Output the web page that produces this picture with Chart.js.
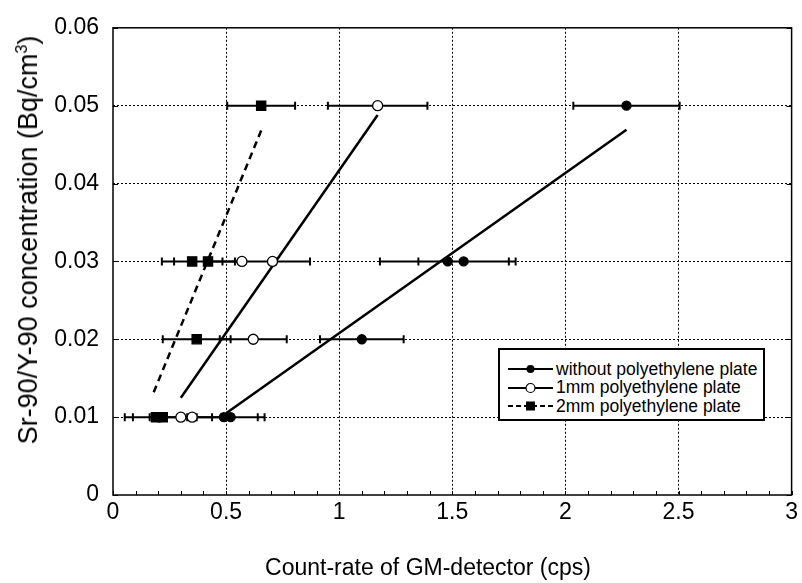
<!DOCTYPE html>
<html>
<head>
<meta charset="utf-8">
<script src="https://cdn.jsdelivr.net/npm/chart.js@4.4.0/dist/chart.umd.min.js"></script>
<style>
  body { margin: 0; background: #fff; }
  #wrap { position: relative; width: 802px; height: 583px; font-family: "Liberation Sans", Arial, sans-serif; color: #000; }
  canvas { position: absolute; left: 0; top: 0; }
  .xtitle { position: absolute; left: 228px; width: 400px; top: 553px; line-height: 28px; font-size: 23px; text-align: center; white-space: nowrap; }
  .ytitle { position: absolute; left: 28px; top: 240px; transform: translate(-50%, -50%) rotate(-90deg); font-size: 27px; white-space: nowrap; }
  .ytitle sup { font-size: 0.6em; }
  .legend { position: absolute; left: 498px; top: 348px; width: 267px; height: 73px; box-sizing: border-box; border: 2px solid #000; background: #fff; padding-top: 10px; font-size: 17.5px; }
  .legend .row { height: 18.3px; line-height: 18.3px; white-space: nowrap; }
  .legend svg { vertical-align: middle; margin: 0 3px 2px 8px; }
</style>
</head>
<body>
<div id="wrap">
  <canvas id="chart" width="802" height="583"></canvas>
  <div class="ytitle">Sr-90/Y-90 concentration (Bq/cm<sup>3</sup>)</div>
  <div class="xtitle">Count-rate of GM-detector (cps)</div>
  <div class="legend">
    <div class="row"><svg width="45" height="12"><line x1="0" y1="6" x2="45" y2="6" stroke="#000" stroke-width="2"/><circle cx="22.5" cy="6" r="4" fill="#000"/></svg>without polyethylene plate</div>
    <div class="row"><svg width="45" height="12"><line x1="0" y1="6" x2="45" y2="6" stroke="#000" stroke-width="2"/><circle cx="22.5" cy="6" r="4.5" fill="#fff" stroke="#000" stroke-width="1.2"/></svg>1mm polyethylene plate</div>
    <div class="row"><svg width="45" height="12"><line x1="0" y1="6" x2="45" y2="6" stroke="#000" stroke-width="2" stroke-dasharray="5,3"/><rect x="18" y="1.5" width="9" height="9" fill="#000"/></svg>2mm polyethylene plate</div>
  </div>
</div>
<script>
// measured points (count rate, concentration, +/- error on count rate)
const noPlateX = [0.49, 0.52, 1.10, 1.48, 1.55, 2.27];
const noPlateY = [0.01, 0.01, 0.02, 0.03, 0.03, 0.05];
const noPlateErr = [0.15, 0.15, 0.185, 0.30, 0.20, 0.235];

const plate1X = [0.30, 0.35, 0.62, 0.57, 0.705, 1.17];
const plate1Y = [0.01, 0.01, 0.02, 0.03, 0.03, 0.05];
const plate1Err = [0.138, 0.13, 0.148, 0.15, 0.166, 0.22];

const plate2X = [0.19, 0.22, 0.37, 0.35, 0.42, 0.655];
const plate2Y = [0.01, 0.01, 0.02, 0.03, 0.03, 0.05];
const plate2Err = [0.138, 0.132, 0.15, 0.134, 0.15, 0.15];

// fitted lines, end points
const fitNoPlateX = [0.50, 2.27];
const fitNoPlateY = [0.0105, 0.0469];
const fit1X = [0.30, 1.17];
const fit1Y = [0.0125, 0.0488];
const fit2X = [0.18, 0.655];
const fit2Y = [0.0132, 0.0468];

Chart.defaults.font.family = "'Liberation Sans', Arial, sans-serif";
Chart.defaults.color = "#000";

function toPoints(xs, ys) {
  return xs.map((x, i) => ({ x: x, y: ys[i] }));
}

// horizontal error bars as broken line segments, null y breaks the line
function errorBars(xs, ys, errs) {
  let list = [];
  for (let i = 0; i < xs.length; i++) {
    list.push({ x: xs[i] - errs[i], y: ys[i] });
    list.push({ x: xs[i] + errs[i], y: ys[i] });
    list.push({ x: xs[i] + errs[i], y: null });
  }
  return list;
}

function markerSet(label, xs, ys, style, radius, fillColor) {
  return {
    label: label,
    data: toPoints(xs, ys),
    showLine: false,
    pointStyle: style,
    pointRadius: radius,
    pointBackgroundColor: fillColor,
    pointBorderColor: "#000",
    pointBorderWidth: 1.3
  };
}

function fitSet(xs, ys, dash) {
  return {
    data: toPoints(xs, ys),
    showLine: true,
    borderColor: "#000",
    borderWidth: 2.5,
    borderDash: dash,
    pointRadius: 0
  };
}

function errSet(xs, ys, errs) {
  return {
    data: errorBars(xs, ys, errs),
    showLine: true,
    spanGaps: false,
    borderColor: "#000",
    borderWidth: 2,
    pointStyle: "line",
    rotation: 90,
    pointRadius: 4,
    pointBorderColor: "#000",
    pointBorderWidth: 2
  };
}

const isMajorX = (v) => Math.round(v * 10) % 5 === 0;

// plot frame and inward tick marks
const framePlugin = {
  id: "frame",
  beforeDatasetsDraw(chart) {
    const { ctx, chartArea: a, scales } = chart;
    ctx.save();
    ctx.strokeStyle = "#000";
    ctx.lineWidth = 1;
    ctx.beginPath();
    scales.x.ticks.forEach((t) => {
      const px = Math.round(scales.x.getPixelForValue(t.value)) + 0.5;
      ctx.moveTo(px, a.bottom);
      ctx.lineTo(px, a.bottom - 4);
    });
    scales.y.ticks.forEach((t) => {
      const py = Math.round(scales.y.getPixelForValue(t.value)) + 0.5;
      ctx.moveTo(a.left, py);
      ctx.lineTo(a.left + 5, py);
      ctx.moveTo(a.right, py);
      ctx.lineTo(a.right - 5, py);
    });
    ctx.stroke();
    ctx.lineWidth = 1.5;
    ctx.strokeRect(a.left, a.top, a.right - a.left, a.bottom - a.top);
    ctx.restore();
  }
};

new Chart(document.getElementById("chart"), {
  type: "scatter",
  data: {
    datasets: [
      markerSet("without polyethylene plate", noPlateX, noPlateY, "circle", 4.5, "#000"),
      markerSet("1mm polyethylene plate", plate1X, plate1Y, "circle", 5, "#fff"),
      markerSet("2mm polyethylene plate", plate2X, plate2Y, "rect", 6.5, "#000"),
      fitSet(fitNoPlateX, fitNoPlateY, []),
      fitSet(fit1X, fit1Y, []),
      fitSet(fit2X, fit2Y, [7, 5]),
      errSet(noPlateX, noPlateY, noPlateErr),
      errSet(plate1X, plate1Y, plate1Err),
      errSet(plate2X, plate2Y, plate2Err)
    ]
  },
  options: {
    responsive: false,
    animation: false,
    layout: { padding: { top: 21, right: 8, left: 0, bottom: 0 } },
    plugins: { legend: { display: false }, tooltip: { enabled: false } },
    scales: {
      x: {
        type: "linear",
        min: 0,
        max: 3,
        afterFit: (scale) => { scale.height = 88; },
        ticks: {
          stepSize: 0.1,
          autoSkip: false,
          maxRotation: 0,
          padding: 4,
          font: { size: 23 },
          callback: (v) => (isMajorX(v) ? String(Math.round(v * 10) / 10) : "")
        },
        grid: {
          drawTicks: false,
          lineWidth: 1,
          color: (c) => {
            const v = c.tick ? c.tick.value : 0;
            return isMajorX(v) && v > 0.01 && v < 2.99 ? "#000" : "rgba(0,0,0,0)";
          }
        },
        border: { display: false, dash: [2, 2] }
      },
      y: {
        type: "linear",
        min: 0,
        max: 0.06,
        afterFit: (scale) => { scale.width = 113; },
        ticks: {
          stepSize: 0.01,
          padding: 14,
          font: { size: 23 },
          callback: (v) => String(Math.round(v * 100) / 100)
        },
        grid: {
          drawTicks: false,
          lineWidth: 1,
          color: (c) => {
            const v = c.tick ? c.tick.value : 0;
            return v > 0.001 && v < 0.059 ? "#000" : "rgba(0,0,0,0)";
          }
        },
        border: { display: false, dash: [2, 2] }
      }
    }
  },
  plugins: [framePlugin]
});
</script>
</body>
</html>
